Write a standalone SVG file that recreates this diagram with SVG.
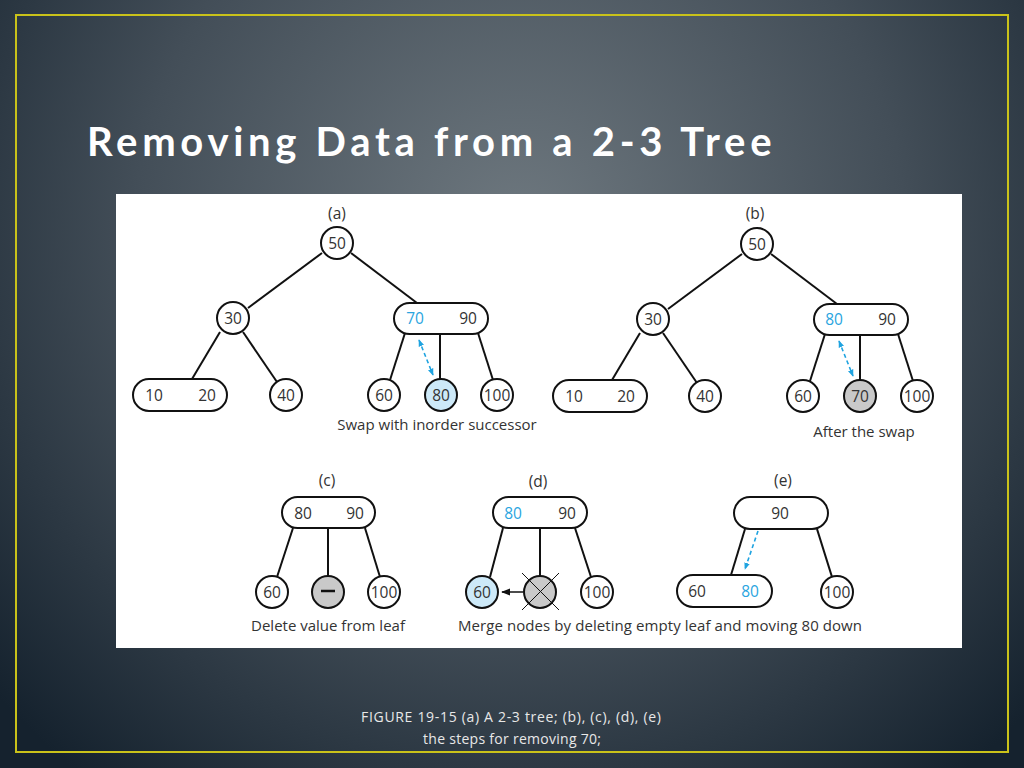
<svg xmlns="http://www.w3.org/2000/svg" width="1024" height="768" viewBox="0 0 1024 768">
<defs>
<radialGradient id="bg" cx="520" cy="230" r="700" gradientUnits="userSpaceOnUse">
<stop offset="0" stop-color="#6e787f"/>
<stop offset="0.55" stop-color="#434e58"/>
<stop offset="1" stop-color="#15222e"/>
</radialGradient>
<marker id="ab" viewBox="0 0 10 10" refX="9" refY="5" markerWidth="7" markerHeight="7" orient="auto-start-reverse" markerUnits="userSpaceOnUse">
<path d="M0,1 L10,5 L0,9 z" fill="#1fa3e0"/>
</marker>
<marker id="ak" viewBox="0 0 10 10" refX="9" refY="5" markerWidth="9" markerHeight="9" orient="auto" markerUnits="userSpaceOnUse">
<path d="M0,1 L10,5 L0,9 z" fill="#111"/>
</marker>
</defs>
<style>
.n{fill:#fff;stroke:#111;stroke-width:2}
.g{fill:#c9c9c9;stroke:#111;stroke-width:2}
.lb{fill:#cde9f8;stroke:#111;stroke-width:2}
.e{stroke:#111;stroke-width:2;fill:none}
.t{font-family:"Open Sans","Liberation Sans",sans-serif;font-size:15.5px;fill:#333;text-anchor:middle;dominant-baseline:central}
.bl{fill:#2aa5e0}
.cap{font-family:"Open Sans","Liberation Sans",sans-serif;font-size:15px;fill:#333;text-anchor:middle}
.da{stroke:#1fa3e0;stroke-width:1.6;stroke-dasharray:4,3;fill:none}
</style>
<rect width="1024" height="768" fill="url(#bg)"/>
<rect x="16" y="15" width="992" height="737" fill="none" stroke="#c9c21a" stroke-width="2"/>
<text x="87" y="156" font-family="Lato,'Open Sans',sans-serif" font-size="40" font-weight="bold" fill="#fff" letter-spacing="1.5" textLength="686">Removing Data from a 2-3 Tree</text>
<rect x="116" y="194" width="846" height="454" fill="#fff"/>

<g id="connectors">
<!-- (a) -->
<line class="e" x1="322" y1="253" x2="248" y2="308"/>
<line class="e" x1="351" y1="253" x2="417" y2="303"/>
<line class="e" x1="220" y1="332" x2="192" y2="379"/>
<line class="e" x1="243" y1="332" x2="277" y2="382"/>
<line class="e" x1="405" y1="333" x2="390" y2="380"/>
<line class="e" x1="440" y1="333" x2="440" y2="379"/>
<line class="e" x1="478" y1="333" x2="493" y2="380"/>
<line class="da" x1="419" y1="340" x2="433" y2="375" marker-start="url(#ab)" marker-end="url(#ab)"/>
<!-- (b) -->
<line class="e" x1="742" y1="254" x2="668" y2="309"/>
<line class="e" x1="771" y1="254" x2="837" y2="304"/>
<line class="e" x1="640" y1="333" x2="612" y2="380"/>
<line class="e" x1="663" y1="333" x2="697" y2="383"/>
<line class="e" x1="825" y1="334" x2="810" y2="381"/>
<line class="e" x1="860" y1="334" x2="860" y2="380"/>
<line class="e" x1="898" y1="334" x2="913" y2="381"/>
<line class="da" x1="839" y1="341" x2="853" y2="376" marker-start="url(#ab)" marker-end="url(#ab)"/>
<!-- (c) -->
<line class="e" x1="293" y1="528" x2="277" y2="577"/>
<line class="e" x1="328" y1="528" x2="328" y2="576"/>
<line class="e" x1="365" y1="528" x2="380" y2="577"/>
<!-- (d) -->
<line class="e" x1="503" y1="528" x2="490" y2="577"/>
<line class="e" x1="540" y1="528" x2="540" y2="576"/>
<line class="e" x1="575" y1="528" x2="591" y2="577"/>
<line x1="523" y1="592" x2="502" y2="592" stroke="#111" stroke-width="1.5" marker-end="url(#ak)"/>
<!-- (e) -->
<line class="e" x1="745" y1="529" x2="731" y2="575"/>
<line class="e" x1="817" y1="529" x2="832" y2="577"/>
<line class="da" x1="758" y1="531" x2="745" y2="569" marker-end="url(#ab)"/>
</g>

<g id="tree-a">
<text class="t" x="337" y="213">(a)</text>
<g id="a50"><circle class="n" cx="337" cy="243" r="16"/><text class="t" x="337" y="243">50</text></g>
<g id="a30"><circle class="n" cx="233" cy="318" r="16"/><text class="t" x="233" y="318">30</text></g>
<g id="a7090"><rect class="n" x="394" y="303" width="94" height="31" rx="15.5"/><text class="t bl" x="415" y="318">70</text><text class="t" x="468" y="318">90</text></g>
<g id="a1020"><rect class="n" x="133" y="379" width="94" height="32" rx="16"/><text class="t" x="154" y="395">10</text><text class="t" x="207" y="395">20</text></g>
<g id="a40"><circle class="n" cx="286" cy="395" r="16"/><text class="t" x="286" y="395">40</text></g>
<g id="a60"><circle class="n" cx="384" cy="395" r="16"/><text class="t" x="384" y="395">60</text></g>
<g id="a80"><circle class="lb" cx="441" cy="395" r="16"/><text class="t" x="441" y="395">80</text></g>
<g id="a100"><circle class="n" cx="497" cy="395" r="16"/><text class="t" x="497" y="395">100</text></g>
<text class="cap" x="437" y="430">Swap with inorder successor</text>
</g>

<g id="tree-b">
<text class="t" x="755" y="213">(b)</text>
<g id="b50"><circle class="n" cx="757" cy="244" r="16"/><text class="t" x="757" y="244">50</text></g>
<g id="b30"><circle class="n" cx="653" cy="319" r="16"/><text class="t" x="653" y="319">30</text></g>
<g id="b8090"><rect class="n" x="814" y="304" width="94" height="31" rx="15.5"/><text class="t bl" x="834" y="319">80</text><text class="t" x="887" y="319">90</text></g>
<g id="b1020"><rect class="n" x="553" y="380" width="94" height="32" rx="16"/><text class="t" x="574" y="396">10</text><text class="t" x="626" y="396">20</text></g>
<g id="b40"><circle class="n" cx="705" cy="396" r="16"/><text class="t" x="705" y="396">40</text></g>
<g id="b60"><circle class="n" cx="803" cy="396" r="16"/><text class="t" x="803" y="396">60</text></g>
<g id="b70"><circle class="g" cx="860" cy="396" r="16"/><text class="t" x="860" y="396">70</text></g>
<g id="b100"><circle class="n" cx="917" cy="396" r="16"/><text class="t" x="917" y="396">100</text></g>
<text class="cap" x="864" y="437">After the swap</text>
</g>

<g id="tree-c">
<text class="t" x="327" y="480">(c)</text>
<g id="c8090"><rect class="n" x="282" y="497" width="93" height="31" rx="15.5"/><text class="t" x="303" y="513">80</text><text class="t" x="355" y="513">90</text></g>
<g id="c60"><circle class="n" cx="272" cy="592" r="16"/><text class="t" x="272" y="592">60</text></g>
<g id="cempty"><circle class="g" cx="328" cy="592" r="16"/><line x1="321" y1="591" x2="335" y2="591" stroke="#111" stroke-width="2.5"/></g>
<g id="c100"><circle class="n" cx="384" cy="592" r="16"/><text class="t" x="384" y="592">100</text></g>
<text class="cap" x="328" y="631">Delete value from leaf</text>
</g>

<g id="tree-d">
<text class="t" x="538" y="481">(d)</text>
<g id="d8090"><rect class="n" x="493" y="497" width="94" height="31" rx="15.5"/><text class="t bl" x="513" y="513">80</text><text class="t" x="567" y="513">90</text></g>
<g id="d60"><circle class="lb" cx="482" cy="592" r="16"/><text class="t" x="482" y="592">60</text></g>
<g id="dempty"><circle class="g" cx="540" cy="592" r="16"/><line x1="522" y1="573" x2="559" y2="610" stroke="#111" stroke-width="1"/><line x1="559" y1="573" x2="522" y2="610" stroke="#111" stroke-width="1"/></g>
<g id="d100"><circle class="n" cx="597" cy="592" r="16"/><text class="t" x="597" y="592">100</text></g>
<text class="cap" x="660" y="631" textLength="404">Merge nodes by deleting empty leaf and moving 80 down</text>
</g>

<g id="tree-e">
<text class="t" x="783" y="480">(e)</text>
<g id="e90"><rect class="n" x="734" y="497" width="94" height="32" rx="16"/><text class="t" x="780" y="513">90</text></g>
<g id="e6080"><rect class="n" x="677" y="575" width="95" height="32" rx="16"/><text class="t" x="697" y="591">60</text><text class="t bl" x="750" y="591">80</text></g>
<g id="e100"><circle class="n" cx="837" cy="592" r="16"/><text class="t" x="837" y="592">100</text></g>
</g>

<g id="footer" font-family="'Open Sans','Liberation Sans',sans-serif" font-size="14" fill="#e8e8e8" text-anchor="middle">
<text x="511" y="722" textLength="300">FIGURE 19-15 (a) A 2-3 tree; (b), (c), (d), (e)</text>
<text x="512" y="744" textLength="178">the steps for removing 70;</text>
</g>
</svg>
